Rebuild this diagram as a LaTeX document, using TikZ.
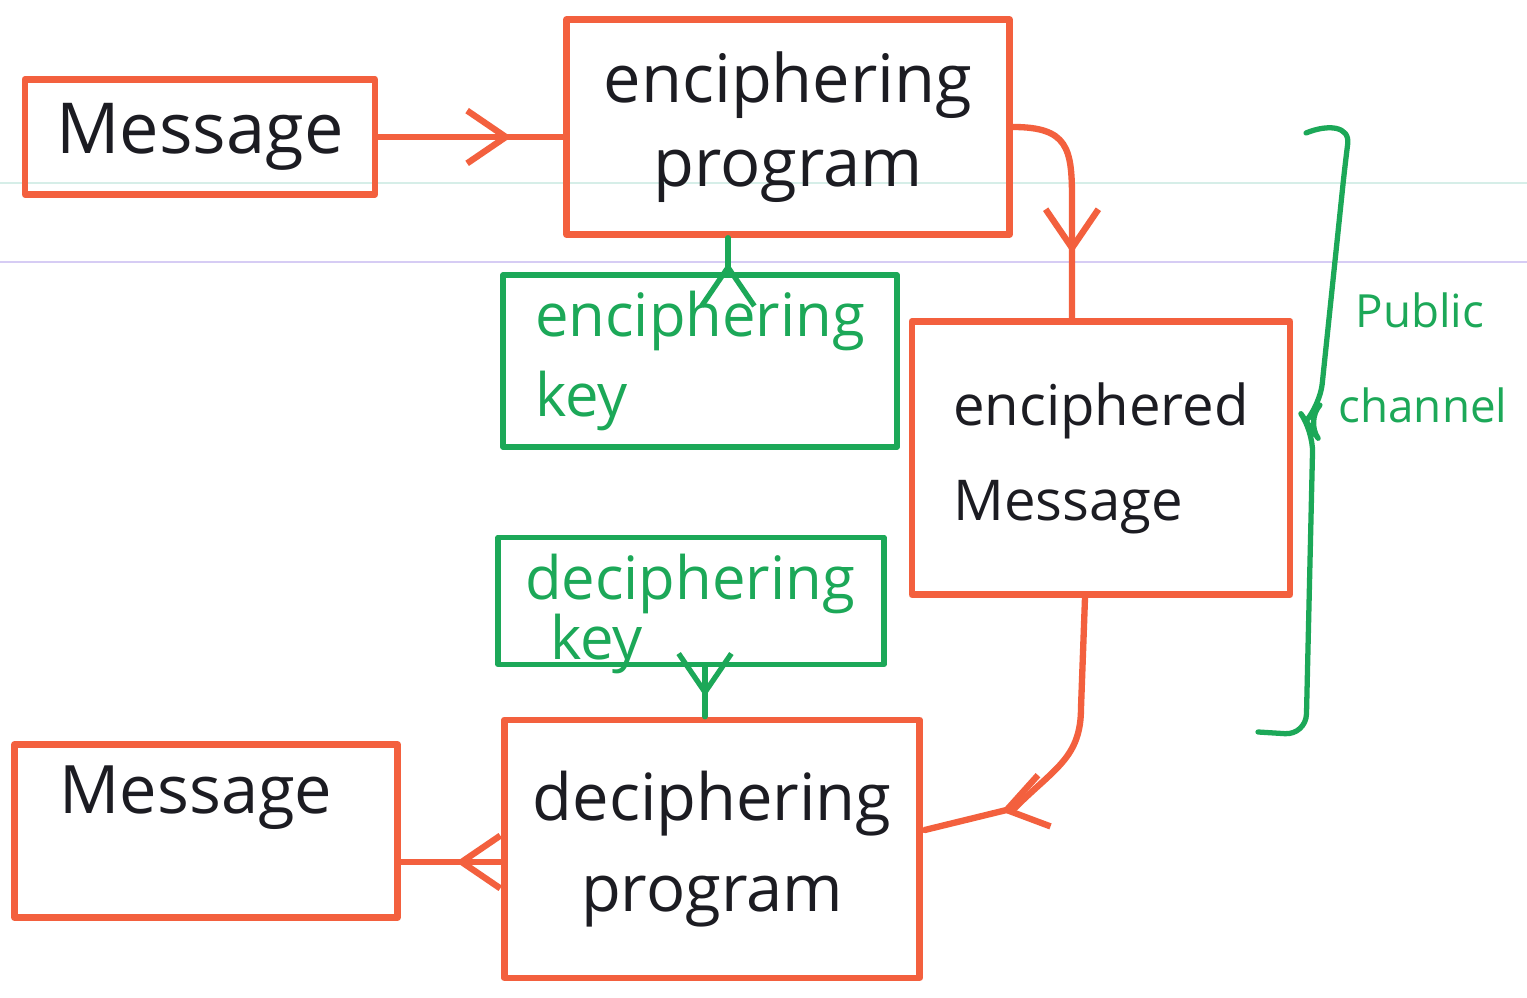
\documentclass[tikz,border=0pt]{standalone}
\usepackage{fontspec}
\setmainfont{Open Sans}
\usetikzlibrary{arrows.meta,decorations.markings,calc}
\definecolor{penred}{RGB}{243,96,62}
\definecolor{pengreen}{RGB}{28,168,88}
\definecolor{ink}{RGB}{28,28,34}
\definecolor{ruleblue}{RGB}{214,238,232}
\definecolor{rulelilac}{RGB}{214,204,244}
\tikzset{
  box/.style={draw=penred, line width=1.8pt, inner sep=0pt, line join=round, text=ink, align=left},
  keybox/.style={draw=pengreen, line width=1.5pt, inner sep=0pt, line join=round, text=pengreen, align=left},
  link/.style={color=penred, line width=1.8pt, line cap=round, line join=round},
  keylink/.style={color=pengreen, line width=1.5pt, line cap=round, line join=round},
  tipat/.style={postaction={decorate, decoration={markings,
      mark=at position #1 with {\arrow{Straight Barb[length=11pt,width=15pt]}}}}},
  fs/.style 2 args={font=\fontsize{#1}{#2}\selectfont},
}
\begin{document}
\begin{tikzpicture}[x=0.01cm, y=-0.01cm]
  \useasboundingbox (0,0) rectangle (1527,998);
  \fill[white] (0,0) rectangle (1527,998);
  % faint ruling of the paper
  \draw[ruleblue, line width=0.6pt] (0,183) -- (1527,183);
  \draw[rulelilac, line width=0.6pt] (0,262) -- (1527,262);

  % boxes
  \node[box, fs={20}{24}, minimum width=3.50cm, minimum height=1.15cm] (msgA) at (200,137) {Message};
  \node[box, fs={19}{24}, minimum width=4.43cm, minimum height=2.15cm, align=center] (encprog) at (788,127) {enciphering\\program};
  \node[keybox, fs={17}{23}, minimum width=3.94cm, minimum height=1.72cm] (enckey) at (700,361) {enciphering\\key};
  \node[box, fs={16}{27}, minimum width=3.78cm, minimum height=2.73cm] (encmsg) at (1101,458) {enciphered\\Message};
  \node[keybox, minimum width=3.86cm, minimum height=1.27cm] (deckey) at (691,601) {};
  \node[text=pengreen, fs={17}{17}, align=left, inner sep=0pt] (deckeytext) at (690,614) {deciphering\\\hspace*{0.25cm}key};
  \node[box, fs={18.5}{26}, minimum width=4.15cm, minimum height=2.58cm, align=center] (decprog) at (712,849) {deciphering\\program};
  \node[box, minimum width=3.83cm, minimum height=1.73cm] (msgB) at (206,831) {};
  \node[text=ink, fs={19}{24}] (msgBtext) at (196,798) {Message};

  % red connectors along the message path
  \draw[link, tipat=0.72] (msgA.east) -- (encprog.west |- msgA.east);
  \draw[link, tipat=0.72] (encprog.east) .. controls +(55,0) and +(0,-50) .. ($(encmsg.north)+(-29,-120)$) -- ($(encmsg.north)+(-29,0)$);
  \draw[link, tipat=0.76] ($(encmsg.south)+(-16,0)$) -- ($(encmsg.south)+(-20,110)$) .. controls +(0,50) and +(40,-40) .. ($(decprog.east)+(92,-41)$) -- ($(decprog.east)+(2,-19)$);
  \draw[link, tipat=0.45] ($(decprog.west)+(0,13)$) -- ($(msgB.east)+(0,31)$);

  % green key connectors
  \draw[keylink, tipat=0.28] ($(enckey.north)+(28,0)$) -- ($(encprog.south)+(-60,0)$);
  \draw[keylink, tipat=0.6] ($(deckey.south)+(14,0)$) -- ($(decprog.north)+(-7,0)$);

  % brace marking the public channel
  \draw[keylink, rounded corners=6pt] (1306,133) .. controls (1328,124) and (1350,126) .. (1345,165)
    -- (1320,405) -- (1306,421) -- (1313,431) -- (1306,735) -- (1258,732);
  \node[text=pengreen, fs={13}{27}, align=left, anchor=west, inner sep=0pt] (pub) at (1338,358) {\hspace*{0.17cm}Public\\channel};
\end{tikzpicture}
\end{document}
